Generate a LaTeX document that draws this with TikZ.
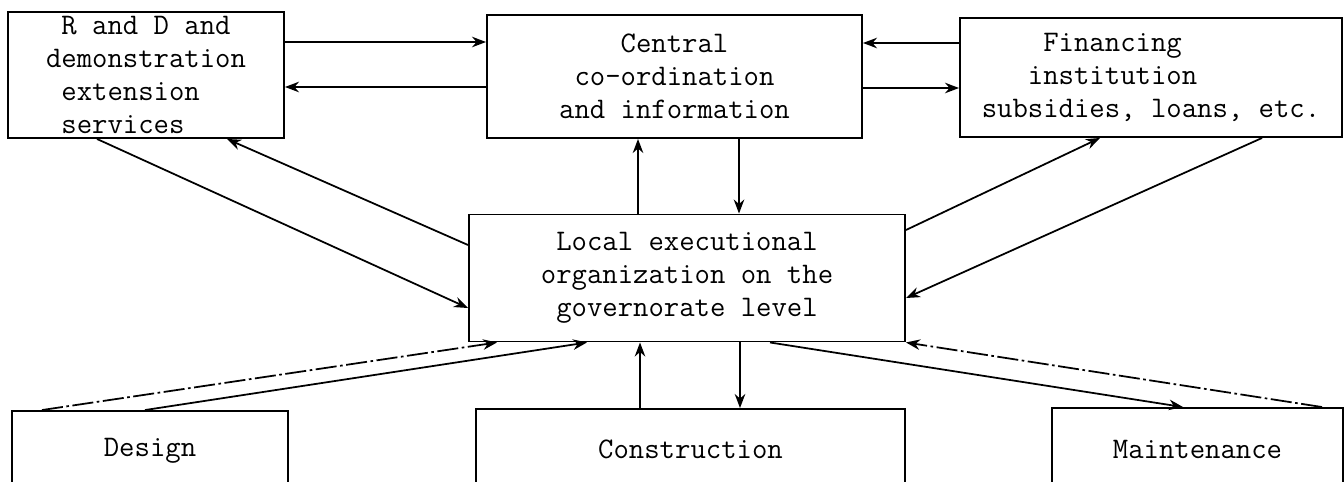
\documentclass[tikz,border=0pt]{standalone}
\usepackage{fontspec}
\usetikzlibrary{arrows.meta}

\begin{document}
\begin{tikzpicture}[x=0.02cm,y=-0.02cm,
  box/.style={draw,line width=1.1pt,inner sep=0pt,
    font=\ttfamily\fontsize{17}{18.8}\selectfont\addfontfeatures{FakeBold=1.2}},
  arr/.style={line width=1pt,-{Stealth[length=8pt,width=6pt]}},
  dashdot/.style={arr,dash pattern=on 12pt off 2pt on 1.5pt off 2pt}]
\useasboundingbox (0,0) rectangle (1344,481);
\clip (0,0) rectangle (1344,481);

% upper row
\node[box,minimum width=276*0.02cm,minimum height=126*0.02cm,align=left] (rd) at (146,75)
  {\hphantom{0}R and D and\\demonstration\\\hphantom{0}extension\\\hphantom{0}services};
\node[box,minimum width=375*0.02cm,minimum height=123*0.02cm,align=center] (cen) at (674.5,76.5)
  {Central\\co-ordination\\and information};
\node[box,minimum width=382*0.02cm,minimum height=119*0.02cm,align=left] (fin) at (1151,77.5)
  {\hphantom{0000}Financing\\\hphantom{000}institution\\subsidies, loans, etc.};

% middle
\node[box,minimum width=436*0.02cm,minimum height=127*0.02cm,align=center] (loc) at (687,278)
  {Local executional\\organization on the\\governorate level};

% lower row (runs off the bottom)
\node[box,minimum width=276*0.02cm,minimum height=79*0.02cm] (des) at (150,450.5) {Design};
\node[box,minimum width=429*0.02cm,minimum height=81*0.02cm] (con) at (690.5,449.5) {Construction};
\node[box,minimum width=291*0.02cm,minimum height=82*0.02cm] (mai) at (1197.5,449) {Maintenance};

% horizontal links
\draw[arr] (rd.east |- 0,42) -- (cen.west |- 0,42);
\draw[arr] (cen.west |- 0,87) -- (rd.east |- 0,87);
\draw[arr] (fin.west |- 0,43) -- (cen.east |- 0,43);
\draw[arr] (cen.east |- 0,88) -- (fin.west |- 0,88);

% vertical links
\draw[arr] (loc.north -| 638,0) -- (cen.south -| 638,0);
\draw[arr] (cen.south -| 739,0) -- (loc.north -| 739,0);
\draw[arr] (con.north -| 640,0) -- (loc.south -| 640,0);
\draw[arr] (loc.south -| 740,0) -- (con.north -| 740,0);

% slanted links
\draw[arr] (rd.south -| 97,0) -- (loc.west |- 0,308);
\draw[arr] (loc.west |- 0,245) -- (rd.south -| 227,0);
\draw[arr] (loc.east |- 0,230) -- (fin.south -| 1100,0);
\draw[arr] (fin.south -| 1262,0) -- (loc.east |- 0,298);
\draw[arr] (des.north -| 145,0) -- (loc.south -| 587,0);
\draw[dashdot] (des.north -| 42,0) -- (loc.south -| 497,0);
\draw[arr] (loc.south -| 770,0) -- (mai.north -| 1183,0);
\draw[dashdot] (mai.north -| 1322,0) -- (loc.south east);
\end{tikzpicture}
\end{document}
